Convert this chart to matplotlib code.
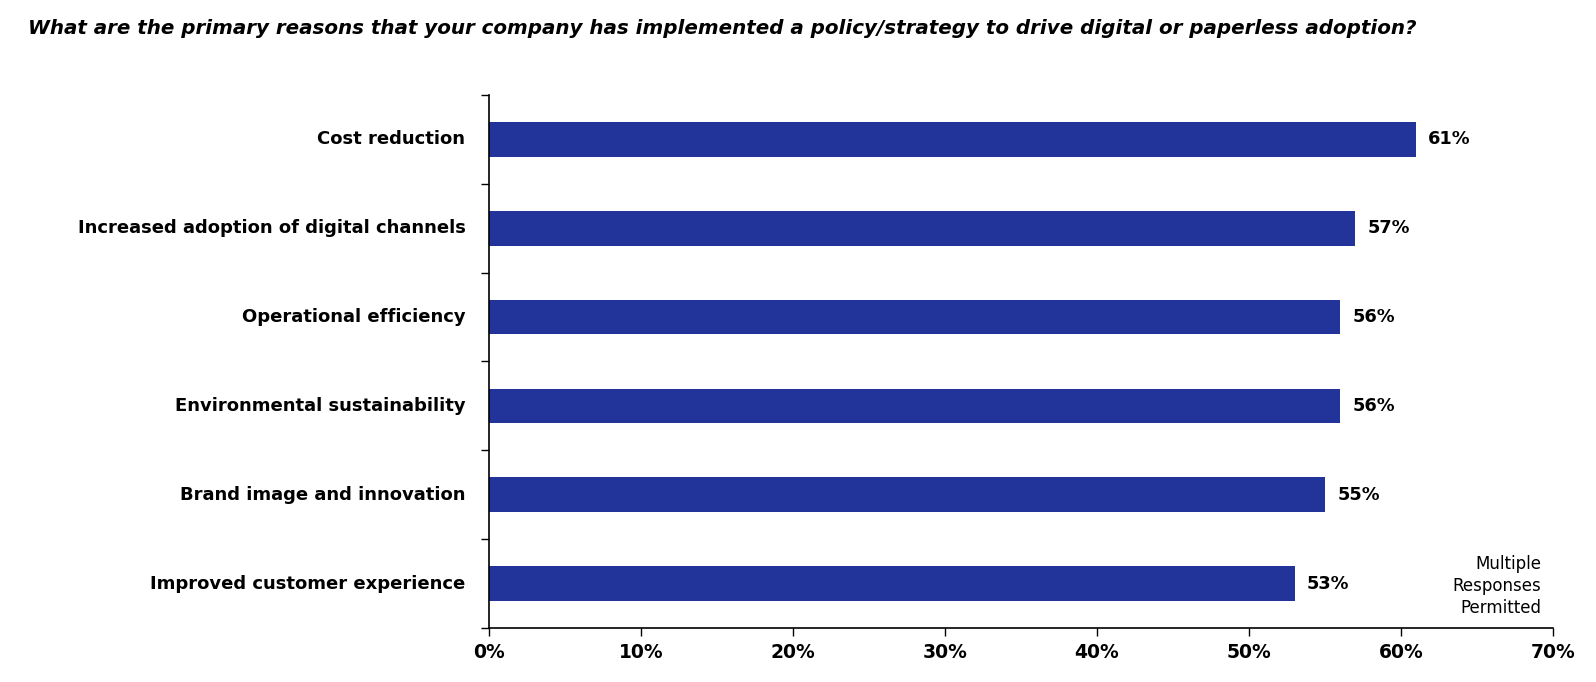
import matplotlib
matplotlib.use("Agg")
import matplotlib.pyplot as plt
from matplotlib.ticker import FixedLocator

categories = ["Cost reduction", "Increased adoption of digital channels",
              "Operational efficiency", "Environmental sustainability",
              "Brand image and innovation", "Improved customer experience"]
values = [61, 57, 56, 56, 55, 53]
x_ticks = [0, 10, 20, 30, 40, 50, 60, 70]
x_tick_labels = [f"{t}%" for t in x_ticks]
title = "What are the primary reasons that your company has implemented a policy/strategy to drive digital or paperless adoption?"
note = "Multiple\nResponses\nPermitted"

FONT = ["DejaVu Sans"]
plt.rcParams['font.family'] = FONT

W, H = 1596, 682
fig = plt.figure(figsize=(W/100, H/100), dpi=100)
left, right, top, bottom = 489, 1553, 95, 628
ax = fig.add_axes([left/W, 1-bottom/H, (right-left)/W, (bottom-top)/H])

n = len(categories)
ypos = list(range(n))
ax.barh(ypos, values, height=0.39, color="#22339A")
ax.set_ylim(n-0.5, -0.5)
ax.set_xlim(0, 70)

ax.set_yticks(ypos)
ax.set_yticklabels(categories, fontsize=13, fontweight="bold")
ax.tick_params(axis="y", which="major", length=0, pad=17)
for lbl in ax.get_yticklabels():
    lbl.set_verticalalignment("center")
ax.yaxis.set_minor_locator(FixedLocator([i-0.5 for i in range(n+1)]))
ax.tick_params(axis="y", which="minor", length=6, width=1, color="black")

ax.set_xticks(x_ticks)
ax.set_xticklabels(x_tick_labels, fontsize=13.5, fontweight="bold")
ax.tick_params(axis="x", length=6, width=1, pad=5)

for s in ["top", "right"]:
    ax.spines[s].set_visible(False)
for s in ["left", "bottom"]:
    ax.spines[s].set_linewidth(1.2)

for y, v in zip(ypos, values):
    ax.text(v + 0.8, y, f"{v}%", va="center", ha="left", fontsize=12.8, fontweight="bold")

fig.text(1541/W, 1-555/H, note, ha="right", va="top", fontsize=12, linespacing=1.3)
fig.text(28/W, 1-29/H, title, ha="left", va="center", fontsize=14.3, fontweight="bold", style="italic")

fig.savefig("out.png", dpi=100)
